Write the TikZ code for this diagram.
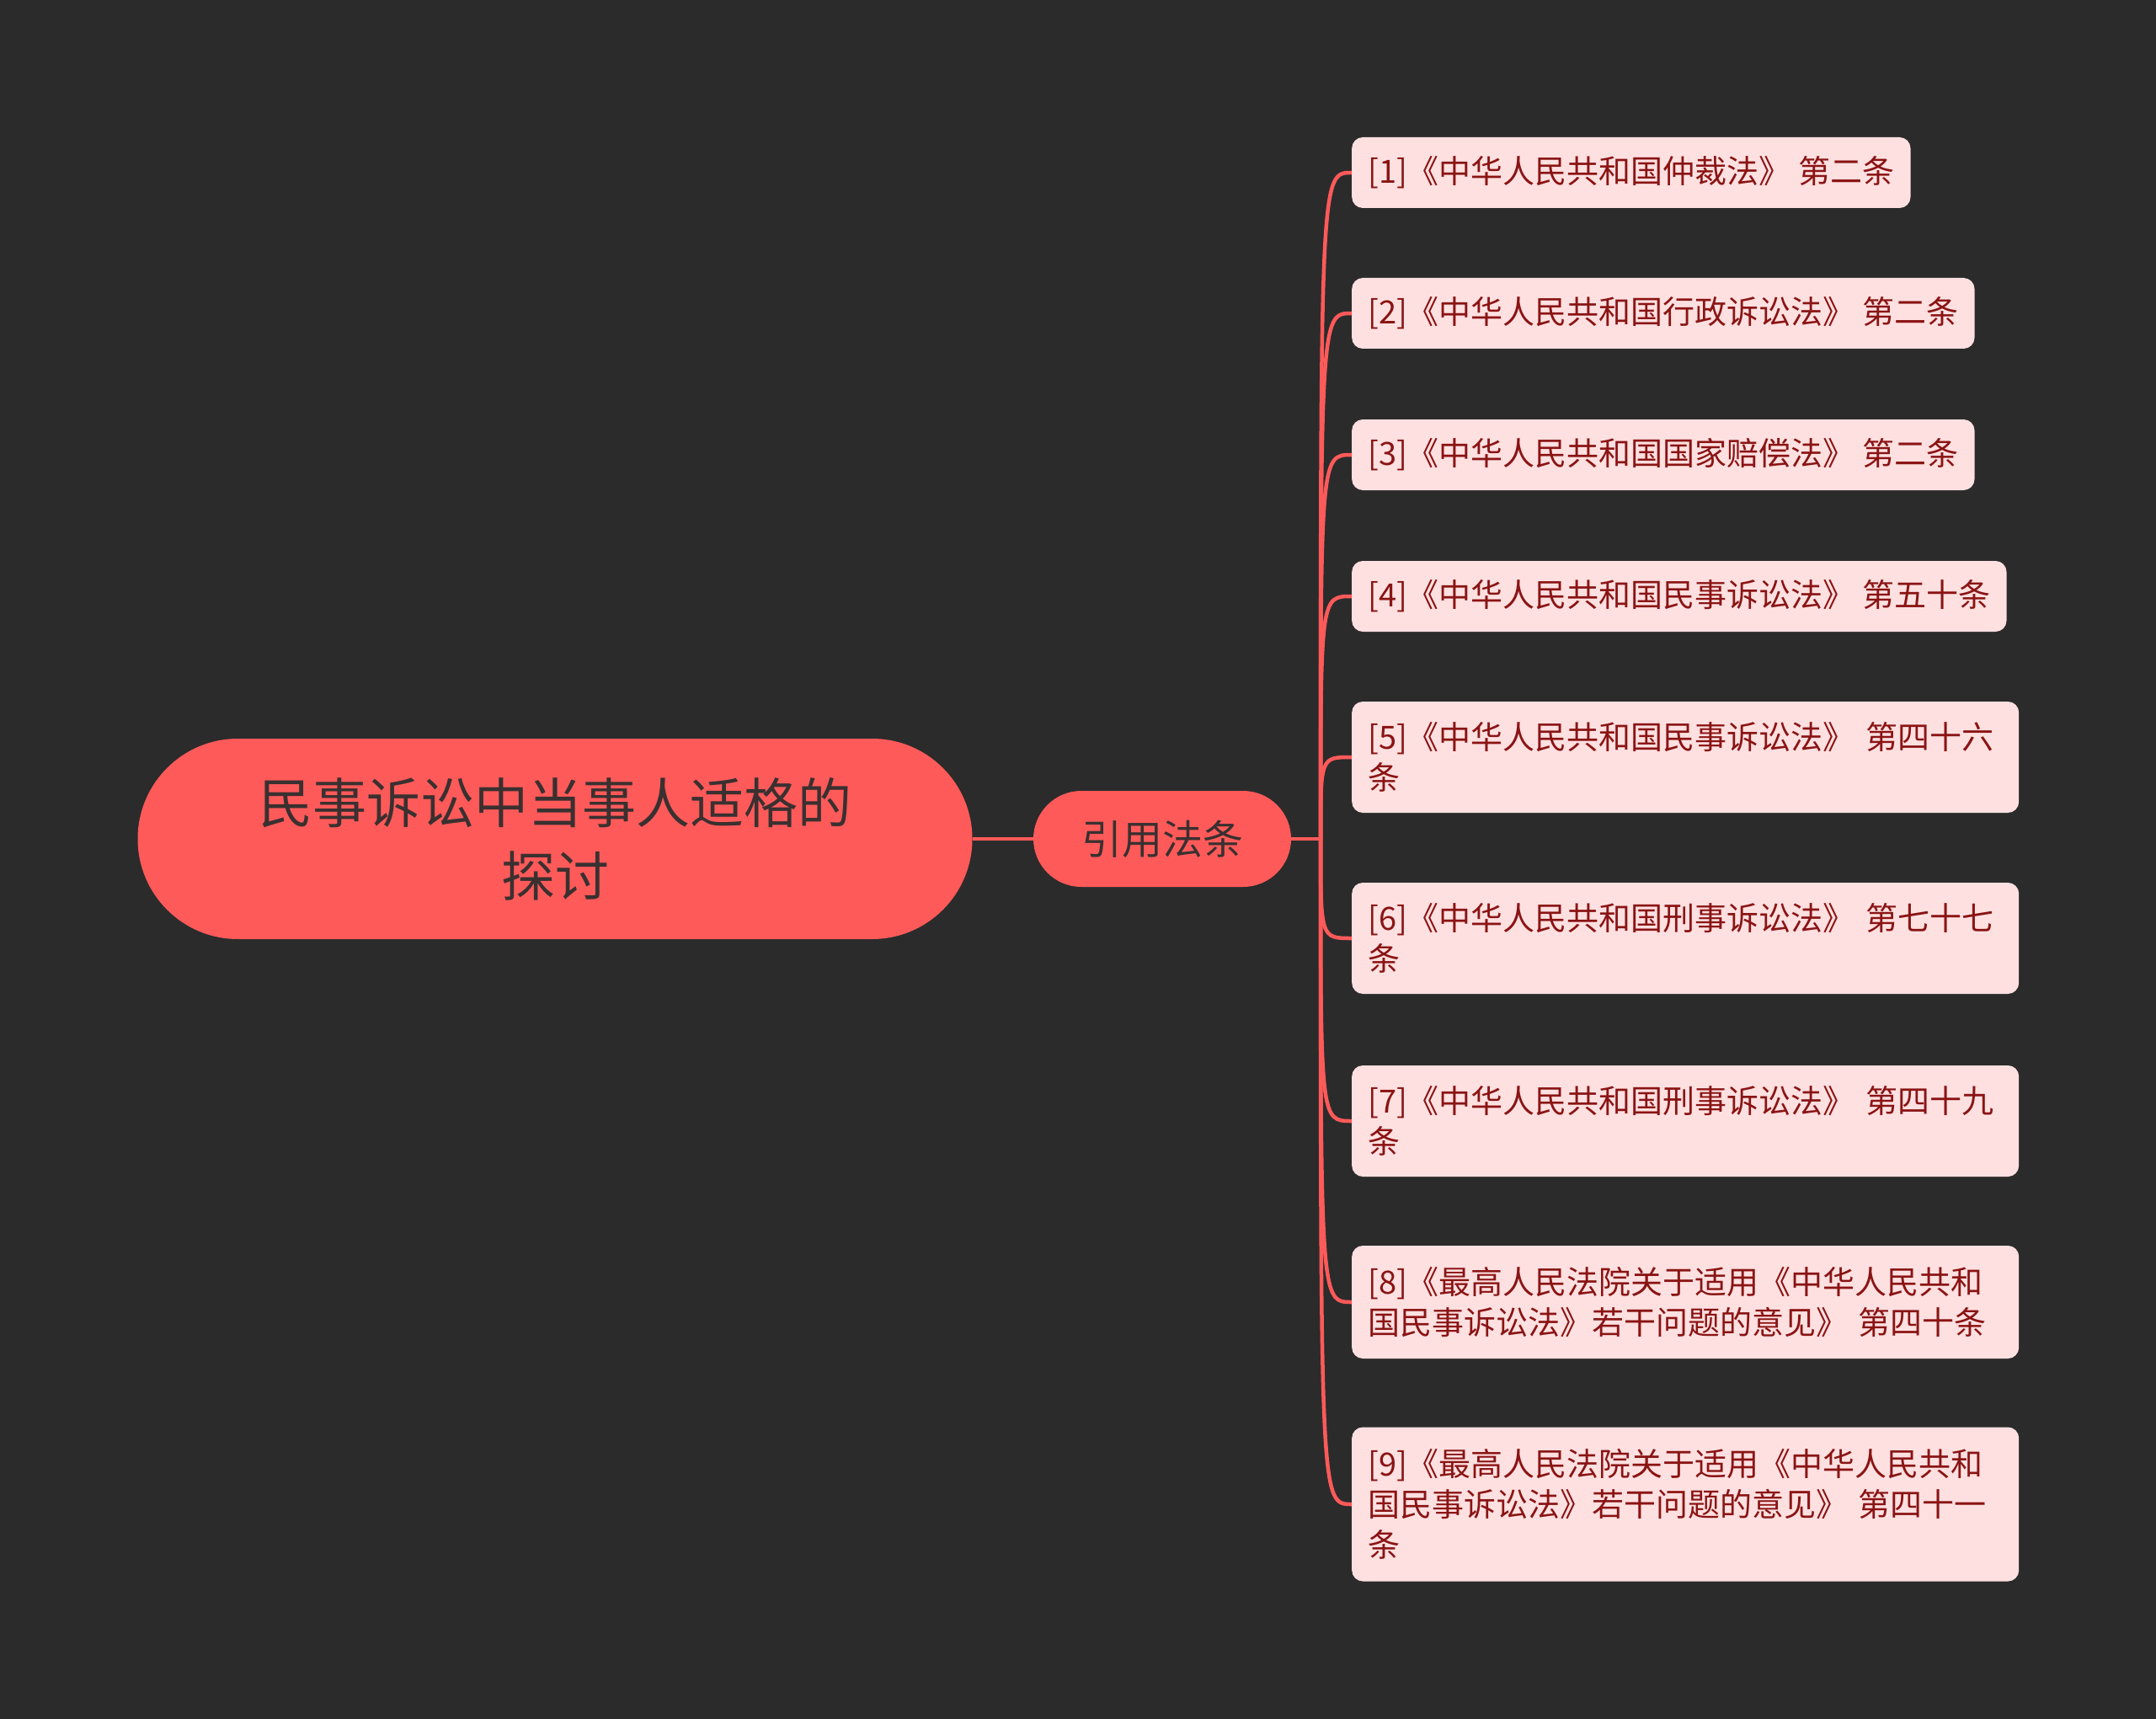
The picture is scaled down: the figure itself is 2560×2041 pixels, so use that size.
\documentclass[tikz,border=0pt]{standalone}
\usepackage{fontspec}
\setmainfont{Noto Sans CJK SC}
\definecolor{bgc}{HTML}{2B2B2B}
\definecolor{mainred}{HTML}{FF5A5A}
\definecolor{leaffill}{HTML}{FFE0E1}
\definecolor{leaftext}{HTML}{8A1414}
\definecolor{roottext}{HTML}{3A3030}
\tikzset{
  rootbox/.style={fill=mainred, draw=none, rounded corners=119pt, minimum width=991pt, minimum height=238pt, align=center, text=roottext, font=\fontsize{64}{87}\selectfont, inner sep=0pt},
  midbox/.style={fill=mainred, draw=none, rounded corners=57pt, minimum width=306pt, minimum height=114pt, align=center, text=roottext, font=\fontsize{48}{58}\selectfont, inner sep=0pt},
  leafbox/.style={fill=leaffill, draw=none, rounded corners=13pt, anchor=west, text=leaftext, font=\fontsize{38}{48}\selectfont, inner xsep=19pt, inner ysep=0pt, align=left},
  conn/.style={draw=mainred, line width=4.5pt},
}
\begin{document}
\begin{tikzpicture}[x=1pt,y=-1pt]
\useasboundingbox (0,0) rectangle (2560,2041);
\fill[bgc] (0,0) rectangle (2560,2041);
\node[rootbox] (root) at (659,996) {民事诉讼中当事人适格的\\探讨};
\node[midbox] (mid) at (1380,996) {引用法条};
\coordinate (j) at (1568,996);
\node[leafbox, minimum height=84pt] (l1) at (1605,205) {[1]《中华人民共和国仲裁法》 第二条};
\node[leafbox, minimum height=84pt] (l2) at (1605,372) {[2]《中华人民共和国行政诉讼法》 第二条};
\node[leafbox, minimum height=84pt] (l3) at (1605,540) {[3]《中华人民共和国国家赔偿法》 第二条};
\node[leafbox, minimum height=84pt] (l4) at (1605,708) {[4]《中华人民共和国民事诉讼法》 第五十条};
\node[leafbox, minimum height=132pt, text width=754pt] (l5) at (1605,899) {[5]《中华人民共和国民事诉讼法》 第四十六\\条};
\node[leafbox, minimum height=132pt, text width=754pt] (l6) at (1605,1114) {[6]《中华人民共和国刑事诉讼法》 第七十七\\条};
\node[leafbox, minimum height=132pt, text width=754pt] (l7) at (1605,1331) {[7]《中华人民共和国刑事诉讼法》 第四十九\\条};
\node[leafbox, minimum height=134pt, text width=754pt] (l8) at (1605,1546) {[8]《最高人民法院关于适用《中华人民共和\\国民事诉讼法》若干问题的意见》 第四十条};
\node[leafbox, minimum height=183pt, text width=754pt] (l9) at (1605,1786) {[9]《最高人民法院关于适用《中华人民共和\\国民事诉讼法》若干问题的意见》 第四十一\\条};
\draw[conn] (root.east) -- (mid.west);
\draw[conn] (mid.east) -- (j);
\foreach \n in {l1,l2,l3,l4,l5,l6,l7,l8,l9}{
  \draw[conn] (j) .. controls (j |- \n.west) .. (\n.west);
}
\end{tikzpicture}
\end{document}
